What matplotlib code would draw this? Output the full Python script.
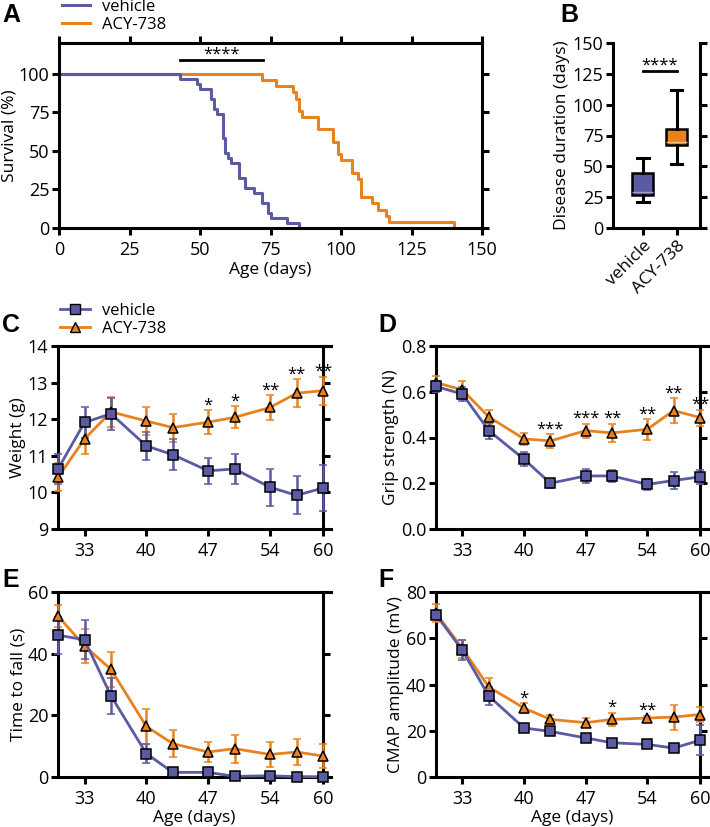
import matplotlib
matplotlib.use('Agg')
import matplotlib.pyplot as plt
from matplotlib.lines import Line2D

plt.rcParams['font.family'] = ['Open Sans', 'DejaVu Sans']
plt.rcParams['font.size'] = 12

PURPLE = '#5a5ba2'
ORANGE = '#e8821e'

# A: Kaplan-Meier survival (step points)
veh_km_days = [0, 43, 49, 50, 54, 55, 56, 58, 59, 60, 61, 64, 66, 69, 72, 74, 75, 81, 85]
veh_km_surv = [100, 96.8, 93.5, 90.3, 83.9, 77.4, 74.2, 58.1, 48.4, 45.2, 41.9, 32.3, 25.8, 22.6, 16.1, 9.7, 6.5, 3.2, 0]
acy_km_days = [0, 72, 77, 83, 84, 85, 86, 92, 97, 99, 100, 104, 106, 107, 111, 113, 116, 117, 140]
acy_km_surv = [100, 96, 92, 88, 84, 76, 72, 64, 56, 48, 44, 36, 32, 20, 16, 12, 8, 4, 0]

# B: disease duration box stats
groups = ['vehicle', 'ACY-738']
dur_whislo = [21, 51.5]
dur_q1 = [26.5, 67]
dur_med = [29, 69.5]
dur_q3 = [44.5, 80]
dur_whishi = [57, 111.5]

# C-F: time course
days = [30, 33, 36, 40, 43, 47, 50, 54, 57, 60]

weight_veh = [10.64, 11.91, 12.15, 11.27, 11.03, 10.59, 10.64, 10.14, 9.92, 10.12]
weight_veh_sem = [0.40, 0.42, 0.44, 0.38, 0.42, 0.36, 0.42, 0.51, 0.52, 0.63]
weight_acy = [10.41, 11.46, 12.2, 11.95, 11.77, 11.92, 12.05, 12.32, 12.71, 12.78]
weight_acy_sem = [0.38, 0.40, 0.42, 0.38, 0.38, 0.33, 0.30, 0.33, 0.38, 0.38]
weight_stars = ['', '', '', '', '', '*', '*', '**', '**', '**']

grip_veh = [0.623, 0.59, 0.43, 0.305, 0.20, 0.232, 0.232, 0.195, 0.212, 0.228]
grip_veh_sem = [0.025, 0.03, 0.035, 0.03, 0.02, 0.03, 0.025, 0.025, 0.035, 0.03]
grip_acy = [0.64, 0.608, 0.49, 0.394, 0.385, 0.43, 0.42, 0.436, 0.518, 0.487]
grip_acy_sem = [0.03, 0.04, 0.03, 0.025, 0.03, 0.03, 0.04, 0.045, 0.055, 0.035]
grip_stars = ['', '', '', '', '***', '***', '**', '**', '**', '**']

fall_veh = [46.0, 44.5, 26.3, 7.6, 1.5, 1.5, 0.2, 0.4, 0.1, 0.1]
fall_veh_sem = [6.0, 6.3, 5.8, 3.0, 0.5, 0.5, 0.2, 0.3, 0.1, 0.1]
fall_acy = [52.2, 42.5, 34.9, 16.4, 10.8, 8.1, 9.2, 7.3, 8.1, 6.8]
fall_acy_sem = [3.7, 5.4, 5.6, 5.6, 4.3, 3.3, 4.5, 4.1, 4.3, 4.0]
fall_stars = [''] * 10

cmap_veh = [70.2, 54.8, 35.0, 21.2, 19.7, 16.9, 14.8, 14.1, 12.5, 15.9]
cmap_veh_sem = [1.5, 4.3, 4.0, 1.5, 1.2, 1.0, 1.0, 1.2, 1.3, 6.5]
cmap_acy = [70.9, 55.5, 38.9, 29.8, 24.9, 23.5, 24.9, 25.5, 25.9, 27.0]
cmap_acy_sem = [3.8, 3.9, 3.9, 2.2, 2.0, 2.0, 2.9, 1.0, 5.4, 3.3]
cmap_stars = ['', '', '', '*', '', '', '*', '**', '', '']

W, H = 710, 827
fig = plt.figure(figsize=(W / 100, H / 100), dpi=100)


def box(l, t, r, b):
    return [l / W, 1 - b / H, (r - l) / W, (b - t) / H]


SPW = 2.2
TICKFS = 13


def style(ax):
    for s in ax.spines.values():
        s.set_linewidth(SPW)
    ax.tick_params(width=SPW, length=5, direction='out', labelsize=TICKFS, pad=2)
    ax.tick_params(axis='x', pad=4.5)


# ---------------- A
axA = fig.add_axes(box(59, 43, 482, 228))
axA.step(acy_km_days, acy_km_surv, where='post', color=ORANGE, lw=2.2, clip_on=False)
axA.step(veh_km_days, veh_km_surv, where='post', color=PURPLE, lw=2.2, clip_on=False)
axA.set_xlim(0, 150)
axA.set_ylim(0, 120)
axA.set_xticks(range(0, 151, 25))
axA.set_yticks(range(0, 101, 25))
style(axA)
axA.tick_params(top=True, right=True, labeltop=False, labelright=False)
axA.set_xlabel('Age (days)', labelpad=2, fontsize=12.5)
axA.set_ylabel('Survival (%)', labelpad=1, fontsize=12.5)
axA.plot([43, 72.5], [109, 109], color='black', lw=2)
axA.annotate('****', (57.7, 109), xytext=(0, 1), textcoords='offset points',
             ha='center', va='baseline', fontsize=12)
axA.legend(handles=[Line2D([], [], color=PURPLE, lw=2.2), Line2D([], [], color=ORANGE, lw=2.2)],
           labels=['vehicle', 'ACY-738'], loc='upper left', bbox_to_anchor=(62 / W, 1 + 1 / H),
           bbox_transform=fig.transFigure, frameon=False, borderpad=0, borderaxespad=0,
           handlelength=1.7, handletextpad=0.7, labelspacing=0.1, fontsize=12)

# ---------------- B
axB = fig.add_axes(box(613, 43, 700, 228))
stats = []
for i in range(2):
    stats.append(dict(whislo=dur_whislo[i], q1=dur_q1[i], med=dur_med[i],
                      q3=dur_q3[i], whishi=dur_whishi[i], fliers=[]))
bp = axB.bxp(stats, positions=[1, 2], widths=0.62, patch_artist=True, capwidths=0.33,
             boxprops=dict(linewidth=1.8, edgecolor='black'),
             whiskerprops=dict(linewidth=2.2), capprops=dict(linewidth=2.2),
             medianprops=dict(linewidth=1.0))
for patch, c in zip(bp['boxes'], [PURPLE, ORANGE]):
    patch.set_facecolor(c)
for med, c in zip(bp['medians'], ['#9c9dd0', '#f6bf85']):
    med.set_color(c)
axB.set_xlim(0.12, 2.68)
axB.set_ylim(0, 150)
axB.set_yticks(range(0, 151, 25))
axB.spines['top'].set_visible(False)
style(axB)
axB.tick_params(axis='x', pad=2)
axB.tick_params(right=True, labelright=False)
axB.set_xticks([1, 2])
axB.set_xticklabels(groups, rotation=45, ha='right', rotation_mode='anchor', fontsize=12.5)
axB.set_ylabel('Disease duration (days)', labelpad=2, fontsize=12.5)
axB.plot([1, 2], [127, 127], color='black', lw=2)
axB.annotate('****', (1.5, 127), xytext=(0, 1), textcoords='offset points',
             ha='center', va='baseline', fontsize=12)


# ---------------- C-F
def course(ax, veh, veh_sem, acy, acy_sem, stars, ylim, yticks, ylabel, xlabel=False, fmt=None):
    for y, e, c, m in [(acy, acy_sem, ORANGE, '^'), (veh, veh_sem, PURPLE, 's')]:
        eb = ax.errorbar(days, y, yerr=e, color=c, lw=2, marker=m, ms=7, mfc=c, mec='black',
                         mew=1.1, capsize=3.2, capthick=1.8, elinewidth=1.8, zorder=3)
        for art in eb.get_children():
            art.set_clip_on(False)
    for d, y, e, s in zip(days, acy, acy_sem, stars):
        if s:
            ax.annotate(s, (d, y + e), xytext=(0, 0.5), textcoords='offset points',
                        ha='center', va='baseline', fontsize=12, annotation_clip=False)
    ax.set_xlim(30, 60.9)
    ax.spines['right'].set_position(('data', 60))
    ax.set_ylim(*ylim)
    ax.set_yticks(yticks)
    if fmt:
        ax.set_yticklabels([fmt.format(v) for v in yticks])
    ax.set_xticks([33, 40, 47, 54, 60])
    style(ax)
    ax.tick_params(axis='y', right=True, labelright=False)
    ax.set_ylabel(ylabel, labelpad=1, fontsize=12.5)
    if xlabel:
        ax.set_xlabel('Age (days)', labelpad=1, fontsize=12.5)


axC = fig.add_axes(box(58, 346, 331, 529))
course(axC, weight_veh, weight_veh_sem, weight_acy, weight_acy_sem, weight_stars,
       (9, 14), list(range(9, 15)), 'Weight (g)')
axC.legend(handles=[Line2D([], [], color=PURPLE, lw=2, marker='s', ms=7, mfc=PURPLE, mec='black'),
                    Line2D([], [], color=ORANGE, lw=2, marker='^', ms=7, mfc=ORANGE, mec='black')],
           labels=['vehicle', 'ACY-738'], loc='upper left', bbox_to_anchor=(60 / W, 1 - 303 / H),
           bbox_transform=fig.transFigure, frameon=False, borderpad=0, borderaxespad=0,
           handlelength=1.8, handletextpad=0.7, labelspacing=0.1, fontsize=12)

axD = fig.add_axes(box(436, 346, 708, 529))
course(axD, grip_veh, grip_veh_sem, grip_acy, grip_acy_sem, grip_stars,
       (0, 0.8), [0, 0.2, 0.4, 0.6, 0.8], 'Grip strength (N)', fmt='{:.1f}')

axE = fig.add_axes(box(58, 592, 331, 777))
course(axE, fall_veh, fall_veh_sem, fall_acy, fall_acy_sem, fall_stars,
       (0, 60), [0, 20, 40, 60], 'Time to fall (s)', xlabel=True)

axF = fig.add_axes(box(436, 592, 708, 777))
course(axF, cmap_veh, cmap_veh_sem, cmap_acy, cmap_acy_sem, cmap_stars,
       (0, 80), [0, 20, 40, 60, 80], 'CMAP amplitude (mV)', xlabel=True)

# panel letters
for lbl, x, y in [('A', 2, 3), ('B', 560, 3), ('C', 2, 313), ('D', 378, 313), ('E', 2, 568), ('F', 378, 568)]:
    fig.text(x / W, 1 - y / H, lbl, fontsize=18, fontweight='bold', family='Liberation Sans',
             ha='left', va='top')

fig.savefig('out.png', dpi=100)
